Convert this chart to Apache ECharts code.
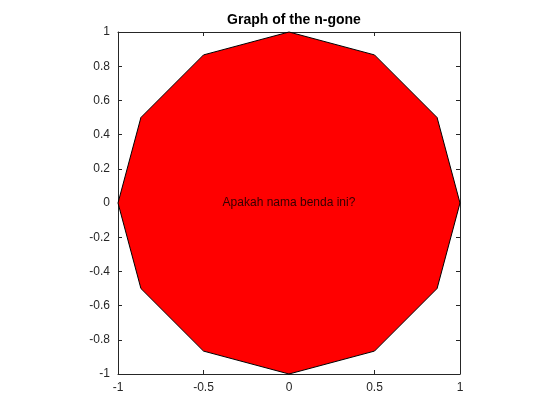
<!DOCTYPE html>
<html>
<head>
<meta charset="utf-8">
<script src="https://cdn.jsdelivr.net/npm/echarts@6/dist/echarts.min.js"></script>
<style>html,body{margin:0;padding:0;background:#fff}#main{width:560px;height:420px}</style>
</head>
<body>
<div id="main"></div>
<script>
// vertices of the polygon
var xs = [1, 0.866, 0.5, 0, -0.5, -0.866, -1, -0.866, -0.5, 0, 0.5, 0.866];
var ys = [0, 0.5, 0.866, 1, 0.866, 0.5, 0, -0.5, -0.866, -1, -0.866, -0.5];
var label = "Apakah nama benda ini?";
var titleText = "Graph of the n-gone";

var chart = echarts.init(document.getElementById("main"));
var font = "Liberation Sans, Arial, sans-serif";

function axis(type, pos, show, interval) {
  return {
    type: "value", position: pos, min: -1, max: 1, interval: interval,
    axisLine: { show: true, onZero: false, lineStyle: { color: "#262626" } },
    axisTick: { show: true, inside: true, length: 4, lineStyle: { color: "#262626" } },
    axisLabel: { show: show, color: "#262626", fontSize: 12, fontFamily: font, margin: 8 },
    splitLine: { show: false }
  };
}

var pts = [];
for (var i = 0; i < xs.length; i++) pts.push([xs[i], ys[i]]);

var option = {
  animation: false,
  title: {
    text: titleText, left: 289, top: 8, textAlign: "center",
    textStyle: { fontSize: 14, fontWeight: "bold", color: "#000", fontFamily: font }
  },
  grid: { left: 118, top: 32, width: 342, height: 342 },
  xAxis: [axis("x", "bottom", true, 0.5), axis("x", "top", false, 0.5)],
  yAxis: [axis("y", "left", true, 0.2), axis("y", "right", false, 0.2)],
  series: [
    {
      type: "custom",
      data: [0],
      renderItem: function (params, api) {
        var p = pts.map(function (d) { return api.coord(d); });
        return { type: "polygon", shape: { points: p },
          style: { fill: "#ff0000", stroke: "#000", lineWidth: 1 } };
      }
    },
    {
      type: "scatter", symbolSize: 0, data: [[0, 0]],
      label: { show: true, position: "inside", formatter: label,
        color: "#000", fontSize: 12, fontFamily: font }
    }
  ]
};
chart.setOption(option);
</script>
</body>
</html>
